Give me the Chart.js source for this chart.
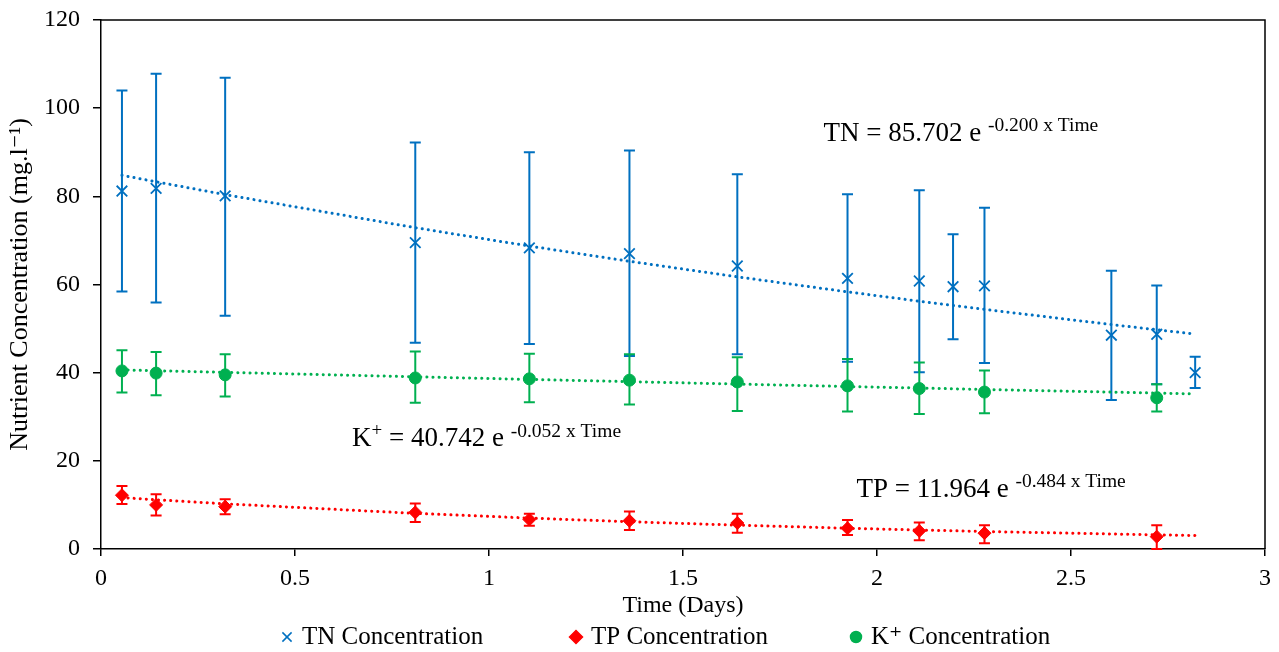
<!DOCTYPE html>
<html>
<head>
<meta charset="utf-8">
<script src="https://cdn.jsdelivr.net/npm/chart.js@4.4.1/dist/chart.umd.min.js"></script>
<style>
  html, body { margin: 0; padding: 0; background: #fff; }
</style>
</head>
<body>
<canvas id="nutrientChart" width="1279" height="652"></canvas>
<script>
var FONT = "'Liberation Serif', 'Times New Roman', 'DejaVu Serif', serif";

// TN series (mg/l) with error bar ends
var tnTime = [0.054, 0.142, 0.32, 0.81, 1.104, 1.362, 1.64, 1.924, 2.109, 2.196, 2.277, 2.604, 2.721, 2.82];
var tnConc = [81.2, 81.8, 80.1, 69.5, 68.3, 67.0, 64.2, 61.4, 60.8, 59.5, 59.7, 48.5, 48.7, 40.0];
var tnHigh = [104.0, 107.8, 106.9, 92.2, 90.0, 90.4, 85.0, 80.5, 81.4, 71.4, 77.4, 63.1, 59.8, 43.6];
var tnLow = [58.4, 55.9, 52.9, 46.8, 46.5, 43.8, 44.2, 42.5, 40.1, 47.6, 42.2, 33.8, 37.4, 36.5];

// TP and K+ share the same sampling times
var sampleTime = [0.054, 0.142, 0.32, 0.81, 1.104, 1.362, 1.64, 1.924, 2.109, 2.277, 2.721];
var tpConc = [12.2, 10.0, 9.6, 8.3, 6.7, 6.4, 5.9, 4.7, 4.1, 3.6, 2.8];
var tpHigh = [14.3, 12.4, 11.3, 10.3, 8.0, 8.5, 8.0, 6.6, 6.0, 5.4, 5.4];
var tpLow = [10.2, 7.6, 7.9, 6.1, 5.3, 4.3, 3.7, 3.2, 2.0, 1.3, 0.0];

var kConc = [40.4, 39.9, 39.5, 38.8, 38.6, 38.3, 37.9, 37.0, 36.4, 35.6, 34.3];
var kHigh = [45.1, 44.7, 44.2, 44.8, 44.3, 44.2, 43.5, 43.1, 42.3, 40.5, 37.4];
var kLow = [35.5, 34.9, 34.6, 33.2, 33.3, 32.8, 31.3, 31.2, 30.6, 30.8, 31.2];

// exponential trend lines
var tnTrendTime = [0.054, 0.142, 0.32, 0.81, 1.104, 1.362, 1.64, 1.924, 2.109, 2.196, 2.277, 2.604, 2.721, 2.82];
var tnTrendConc = [84.78, 83.30, 80.39, 72.88, 68.72, 65.26, 61.74, 58.33, 56.21, 55.24, 54.36, 50.91, 49.74, 48.76];
var trendTime = [0.054, 0.142, 0.32, 0.81, 1.104, 1.362, 1.64, 1.924, 2.109, 2.277, 2.721, 2.82];
var tpTrendConc = [11.66, 11.17, 10.25, 8.08, 7.01, 6.19, 5.41, 4.71, 4.31, 3.97, 3.21, 3.06];
var kTrendConc = [40.63, 40.44, 40.07, 39.06, 38.47, 37.96, 37.41, 36.86, 36.51, 36.19, 35.37, 35.18];

var seriesLabels = ['TN Concentration', 'TP Concentration', 'K\u207A Concentration'];
var xTicks = [0, 0.5, 1, 1.5, 2, 2.5, 3];
var yTicks = [0, 20, 40, 60, 80, 100, 120];

// fitted equations, anchored at (time, concentration) of their first letter
var equations = [
  { name: 'TN', sup: '', coef: '85.702', rate: '-0.200', time: 1.862, conc: 92.6 },
  { name: 'K', sup: '+', coef: '40.742', rate: '-0.052', time: 0.647, conc: 23.3 },
  { name: 'TP', sup: '', coef: '11.964', rate: '-0.484', time: 1.947, conc: 11.9 }
];

var BLUE = '#0070C0', RED = '#FF0000', GREEN = '#00B050';

function pts(xs, ys) {
  return xs.map(function(x, i) { return { x: x, y: ys[i] }; });
}

function trend(label, xs, ys, color) {
  return {
    type: 'line', label: label, data: pts(xs, ys),
    borderColor: color, borderWidth: 3, borderDash: [0.1, 6], borderCapStyle: 'round',
    pointRadius: 0, fill: false, tension: 0, showLine: true
  };
}

var errorBarPlugin = {
  id: 'errorBars',
  beforeDatasetsDraw: function(chart) {
    var ctx = chart.ctx, xs = chart.scales.x, ys = chart.scales.y;
    chart.data.datasets.forEach(function(ds) {
      if (!ds.errHigh) return;
      ctx.save();
      ctx.strokeStyle = ds.borderColor;
      ctx.lineWidth = 2;
      ds.data.forEach(function(p, j) {
        var px = xs.getPixelForValue(p.x);
        var top = ys.getPixelForValue(ds.errHigh[j]);
        var bot = ys.getPixelForValue(ds.errLow[j]);
        ctx.beginPath();
        ctx.moveTo(px, top); ctx.lineTo(px, bot);
        ctx.moveTo(px - 5.5, top); ctx.lineTo(px + 5.5, top);
        ctx.moveTo(px - 5.5, bot); ctx.lineTo(px + 5.5, bot);
        ctx.stroke();
      });
      ctx.restore();
    });
  }
};

var framePlugin = {
  id: 'frame',
  afterDraw: function(chart) {
    var a = chart.chartArea, ctx = chart.ctx;
    ctx.save();
    ctx.strokeStyle = '#000';
    ctx.lineWidth = 1.5;
    ctx.beginPath();
    ctx.moveTo(a.left, a.top); ctx.lineTo(a.right, a.top); ctx.lineTo(a.right, a.bottom);
    ctx.stroke();
    ctx.restore();
  }
};

var equationPlugin = {
  id: 'equations',
  afterDatasetsDraw: function(chart) {
    var ctx = chart.ctx, xs = chart.scales.x, ys = chart.scales.y;
    ctx.save();
    ctx.fillStyle = '#000';
    ctx.textBaseline = 'alphabetic';
    ctx.textAlign = 'left';
    equations.forEach(function(eq) {
      var x = xs.getPixelForValue(eq.time);
      var y = ys.getPixelForValue(eq.conc);
      ctx.font = '27px ' + FONT;
      ctx.fillText(eq.name, x, y);
      x += ctx.measureText(eq.name).width;
      if (eq.sup) {
        ctx.font = '19px ' + FONT;
        ctx.fillText(eq.sup, x, y - 10);
        x += ctx.measureText(eq.sup).width;
      }
      ctx.font = '27px ' + FONT;
      var main = ' = ' + eq.coef + ' e ';
      ctx.fillText(main, x, y);
      x += ctx.measureText(main).width;
      ctx.font = '19.5px ' + FONT;
      ctx.fillText(eq.rate + ' x Time', x, y - 9.5);
    });
    ctx.restore();
  }
};

// legend below the axis title, spaced like the original
var legendX = [287, 576, 856];
var legendPlugin = {
  id: 'spacedLegend',
  afterDraw: function(chart) {
    var ctx = chart.ctx;
    var y = 637;
    ctx.save();
    for (var i = 0; i < 3; i++) {
      var ds = chart.data.datasets[i];
      ctx.fillStyle = ds.backgroundColor;
      ctx.strokeStyle = ds.borderColor;
      ctx.lineWidth = 1.5;
      Chart.helpers.drawPoint(ctx, {
        pointStyle: ds.pointStyle, rotation: 0,
        radius: ds.pointStyle === 'circle' ? 5.5 : 6.5, borderWidth: 1.5
      }, legendX[i], y);
      ctx.fillStyle = '#000';
      ctx.font = '25px ' + FONT;
      ctx.textBaseline = 'middle';
      ctx.textAlign = 'left';
      ctx.fillText(ds.label, legendX[i] + 15, y);
    }
    ctx.restore();
  }
};

var ctx = document.getElementById('nutrientChart').getContext('2d');
var chart = new Chart(ctx, {
  type: 'scatter',
  data: {
    datasets: [
      {
        label: seriesLabels[0], data: pts(tnTime, tnConc), errHigh: tnHigh, errLow: tnLow,
        pointStyle: 'crossRot', pointRadius: 7.5, borderColor: BLUE, backgroundColor: BLUE,
        borderWidth: 1.8, showLine: false
      },
      {
        label: seriesLabels[1], data: pts(sampleTime, tpConc), errHigh: tpHigh, errLow: tpLow,
        pointStyle: 'rectRot', pointRadius: 6.5, borderColor: RED, backgroundColor: RED,
        borderWidth: 1, showLine: false
      },
      {
        label: seriesLabels[2], data: pts(sampleTime, kConc), errHigh: kHigh, errLow: kLow,
        pointStyle: 'circle', pointRadius: 6, borderColor: GREEN, backgroundColor: GREEN,
        borderWidth: 1, showLine: false
      },
      trend('TN trend', tnTrendTime, tnTrendConc, BLUE),
      trend('TP trend', trendTime, tpTrendConc, RED),
      trend('K trend', trendTime, kTrendConc, GREEN)
    ]
  },
  options: {
    responsive: false,
    animation: false,
    layout: { padding: { left: 0, right: 14, top: 20, bottom: 30 } },
    plugins: {
      legend: { display: false },
      tooltip: { enabled: false }
    },
    scales: {
      x: {
        type: 'linear', min: 0, max: 3,
        afterBuildTicks: function(scale) {
          scale.ticks = xTicks.map(function(v) { return { value: v }; });
        },
        ticks: {
          color: '#000', font: { family: FONT, size: 24 }, padding: 8, maxRotation: 0,
          callback: function(v) { return String(v); }
        },
        grid: { drawOnChartArea: false, drawTicks: true, tickLength: 7, color: '#000', lineWidth: 1.5 },
        border: { color: '#000', width: 1.5 },
        title: {
          display: true, text: 'Time (Days)', color: '#000',
          font: { family: FONT, size: 24 }, padding: { top: 0, bottom: 2 }
        },
        afterFit: function(scale) { scale.height = 73; }
      },
      y: {
        type: 'linear', min: 0, max: 120,
        afterBuildTicks: function(scale) {
          scale.ticks = yTicks.map(function(v) { return { value: v }; });
        },
        ticks: { color: '#000', font: { family: FONT, size: 24 }, padding: 13 },
        grid: { drawOnChartArea: false, drawTicks: true, tickLength: 8, color: '#000', lineWidth: 1.5 },
        border: { color: '#000', width: 1.5 },
        title: {
          display: true, text: 'Nutrient Concentration (mg.l\u207B\u00B9)', color: '#000',
          font: { family: FONT, size: 26 }, padding: { top: 5, bottom: 0 }
        },
        afterFit: function(scale) {
          scale.width = 101;
          scale.paddingTop = 0;
          scale.paddingBottom = 0;
        }
      }
    }
  },
  plugins: [errorBarPlugin, equationPlugin, framePlugin, legendPlugin]
});
</script>
</body>
</html>
